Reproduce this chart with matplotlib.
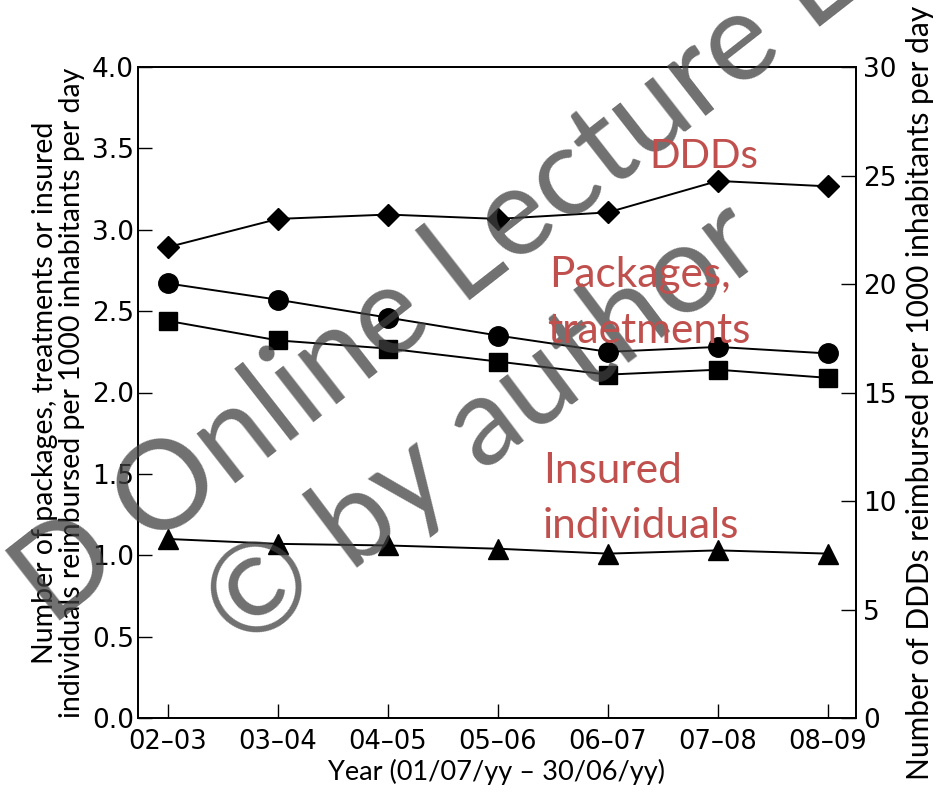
import matplotlib
matplotlib.use("Agg")
import matplotlib.pyplot as plt
import numpy as np
from matplotlib.textpath import TextPath
from matplotlib.font_manager import FontProperties

# season labels (01/07/yy - 30/06/yy)
years = ['02–03', '03–04', '04–05', '05–06', '06–07', '07–08', '08–09']

# left axis: per 1000 inhabitants per day
packages = [2.67, 2.57, 2.46, 2.35, 2.25, 2.28, 2.24]
treatments = [2.44, 2.32, 2.27, 2.19, 2.11, 2.14, 2.09]
insured = [1.10, 1.07, 1.06, 1.04, 1.01, 1.03, 1.01]

# right axis: DDDs per 1000 inhabitants per day
ddds = [21.7, 23.0, 23.2, 23.0, 23.3, 24.75, 24.5]

left_ticks = [0.0, 0.5, 1.0, 1.5, 2.0, 2.5, 3.0, 3.5, 4.0]
right_ticks = [0, 5, 10, 15, 20, 25, 30]

red = '#c0504d'
W, H = 941, 795
x = np.arange(len(years))

fig = plt.figure(figsize=(W / 100, H / 100), dpi=100)
ax = fig.add_axes([138 / W, 1 - 718 / H, (856 - 138) / W, (718 - 67) / H])
ax2 = ax.twinx()

ax.plot(x, packages, color='black', lw=1.4, marker='o', ms=14, zorder=3)
ax.plot(x, treatments, color='black', lw=1.4, marker='s', ms=13, zorder=3)
ax.plot(x, insured, color='black', lw=1.4, marker='^', ms=14, zorder=3)
ax2.plot(x, ddds, color='black', lw=1.4, marker='D', ms=11, zorder=3)

ax.set_xlim(-0.273, 6.255)
ax.set_ylim(0, 4.0)
ax2.set_ylim(0, 30)

ax.set_xticks(x)
ax.set_xticklabels(years, fontsize=18.5)
ax.set_yticks(left_ticks)
ax.set_yticklabels([f'{v:.1f}' for v in left_ticks], fontsize=19)
ax2.set_yticks(right_ticks)
ax2.set_yticklabels([str(v) for v in right_ticks], fontsize=19)

ax.tick_params(axis='x', direction='in', length=10, width=1, pad=8)
ax.tick_params(axis='y', direction='in', length=10, width=1, pad=3)
ax2.tick_params(axis='y', direction='in', length=11, width=1, pad=5)
for a in (ax, ax2):
    for s in a.spines.values():
        s.set_linewidth(1.3)

ax.set_xlabel('Year (01/07/yy – 30/06/yy)', fontsize=19.5, family='Lato', labelpad=3)
ax.set_ylabel('Number of packages, treatments or insured\n'
              'individuals reimbursed per 1000 inhabitants per day',
              fontsize=20.5, family='Lato', labelpad=5, linespacing=1.05)
ax2.set_ylabel('Number of DDDs reimbursed per 1000 inhabitants per day',
               fontsize=21.5, family='Lato', labelpad=7)


# watermark, placed by anchoring one glyph of each string
def watermark(s, anchor_text, anchor_px, size_px, angle, use_center):
    prop = FontProperties(family='Lato')
    full = TextPath((0, 0), s, size=size_px, prop=prop).get_extents()
    sub = TextPath((0, 0), anchor_text, size=size_px, prop=prop).get_extents()
    glyph = TextPath((0, 0), anchor_text[0], size=size_px, prop=prop).get_extents()
    # anchor glyph offset along the baseline inside the full string
    gx = full.x1 - (sub.x1 - sub.x0)
    if use_center:
        ox, oy = gx + glyph.width / 2, (glyph.y0 + glyph.y1) / 2
    else:
        ox, oy = gx, 0.0
    t = np.radians(angle)
    dx = ox * np.cos(t) - oy * np.sin(t)
    dy = ox * np.sin(t) + oy * np.cos(t)
    px, py = anchor_px[0] - dx, (H - anchor_px[1]) - dy
    fig.text(px / W, py / H, s, family='Lato', fontsize=size_px * 72 / 100,
             color='#404040', alpha=0.75, rotation=angle, rotation_mode='anchor',
             ha='left', va='baseline', zorder=10)


watermark('D Online Lecture L', 'Lecture L', (470, 300), 124, 38, False)
watermark('© by author', '© by author', (257, 587), 124, 37, True)

# series annotations
note = dict(color=red, fontsize=30.5, family='Lato', ha='left', va='baseline',
            zorder=11)
fig.text(649 / W, 1 - 168 / H, 'DDDs', **dict(note, fontsize=29))
fig.text(549 / W, 1 - 287 / H, 'Packages,', **note)
fig.text(547 / W, 1 - 343 / H, 'traetments', **note)
fig.text(543 / W, 1 - 483 / H, 'Insured', **note)
fig.text(543 / W, 1 - 538 / H, 'individuals', **note)

fig.savefig('out.png', dpi=100)
